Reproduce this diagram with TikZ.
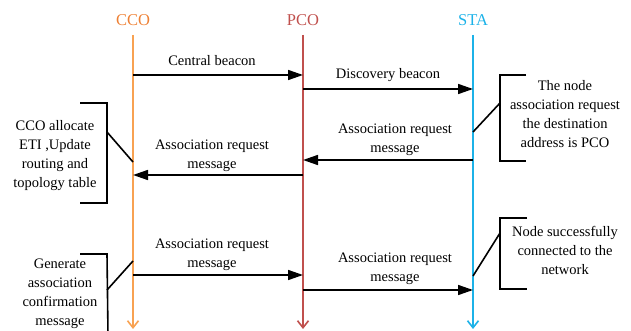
\documentclass[tikz,border=0pt]{standalone}
\usepackage{fontspec}
\setmainfont{Liberation Serif}
\usetikzlibrary{arrows.meta}
\definecolor{ccoTxt}{RGB}{238,128,52}
\definecolor{ccoLine}{RGB}{248,162,82}
\definecolor{pcoCol}{RGB}{192,80,77}
\definecolor{staCol}{RGB}{28,178,232}
\tikzset{
  head/.style={font=\fontsize{16.5}{20}\selectfont, inner sep=0pt},
  lbl/.style={font=\fontsize{14.5}{19}\selectfont, align=center, inner sep=0pt},
  msg/.style={line width=1.6pt, -{Triangle[length=15pt,width=10pt]}},
  life/.style={line width=1.6pt, -{Straight Barb[length=7pt,width=11pt,line width=1.6pt]}},
  brk/.style={line width=1.6pt},
}
\begin{document}
\begin{tikzpicture}[x=1pt,y=-1pt]
\useasboundingbox (0,0) rectangle (631,331);
% heads
\node[head, text=ccoTxt] (cco) at (133,20) {CCO};
\node[head, text=pcoCol] (pco) at (303,20) {PCO};
\node[head, text=staCol] (sta) at (473,20) {STA};
% lifeline coordinates
\coordinate (ccoT) at (133,35); \coordinate (ccoB) at (133,329);
\coordinate (pcoT) at (303,35); \coordinate (pcoB) at (303,329);
\coordinate (staT) at (473,35); \coordinate (staB) at (473,329);
\draw[life, ccoLine] (ccoT) -- (ccoB);
\draw[life, pcoCol] (pcoT) -- (pcoB);
\draw[life, staCol] (staT) -- (staB);
% message points
\coordinate (c1) at (133,75);  \coordinate (p1) at (303,75);
\coordinate (p2) at (303,89);  \coordinate (s2) at (473,89);
\coordinate (s3) at (473,160); \coordinate (p3) at (303,160);
\coordinate (p4) at (303,175); \coordinate (c4) at (133,175);
\coordinate (c5) at (133,275); \coordinate (p5) at (303,275);
\coordinate (p6) at (303,290); \coordinate (s6) at (473,290);
\draw[msg] (c1) -- (p1);
\draw[msg] (p2) -- (s2);
\draw[msg] (s3) -- (p3);
\draw[msg] (p4) -- (c4);
\draw[msg] (c5) -- (p5);
\draw[msg] (p6) -- (s6);
% message labels
\node[lbl] (m1) at (212,61) {Central beacon};
\node[lbl] (m2) at (388,75) {Discovery beacon};
\node[lbl] (m3) at (395,139.5) {Association request\\message};
\node[lbl] (m4) at (212,155.5) {Association request\\message};
\node[lbl] (m5) at (212,255) {Association request\\message};
\node[lbl] (m6) at (395,268.5) {Association request\\message};
% brackets
\coordinate (b1a) at (80,103); \coordinate (b1b) at (107,103);
\coordinate (b1c) at (107,203); \coordinate (b1d) at (80,203);
\coordinate (b1m) at (107,132); \coordinate (b1e) at (133,162);
\draw[brk] (b1a) -- (b1b) -- (b1c) -- (b1d);
\draw[brk] (b1m) -- (b1e);
\node[lbl] (t1) at (55,155.5) {CCO allocate\\ETI ,Update\\routing and\\topology table};

\coordinate (b2a) at (526,75); \coordinate (b2b) at (500,75);
\coordinate (b2c) at (500,161); \coordinate (b2d) at (526,161);
\coordinate (b2m) at (500,103); \coordinate (b2e) at (473,132);
\draw[brk] (b2a) -- (b2b) -- (b2c) -- (b2d);
\draw[brk] (b2m) -- (b2e);
\node[lbl] (t2) at (565,114.5) {The node\\association request\\the destination\\address is PCO};

\coordinate (b3a) at (80,254); \coordinate (b3b) at (107,254);
\coordinate (b3c) at (108,335);
\coordinate (b3m) at (107,290); \coordinate (b3e) at (133,261);
\draw[brk] (b3a) -- (b3b) -- (b3c);
\draw[brk] (b3m) -- (b3e);
\node[lbl] (t3) at (60,293.5) {Generate\\association\\confirmation\\message};

\coordinate (b4a) at (527,218); \coordinate (b4b) at (500,218);
\coordinate (b4c) at (500,289); \coordinate (b4d) at (527,289);
\coordinate (b4m) at (500,233); \coordinate (b4e) at (473,276);
\draw[brk] (b4a) -- (b4b) -- (b4c) -- (b4d);
\draw[brk] (b4m) -- (b4e);
\node[lbl] (t4) at (565,250) {Node successfully\\connected to the\\network};
\end{tikzpicture}
\end{document}
